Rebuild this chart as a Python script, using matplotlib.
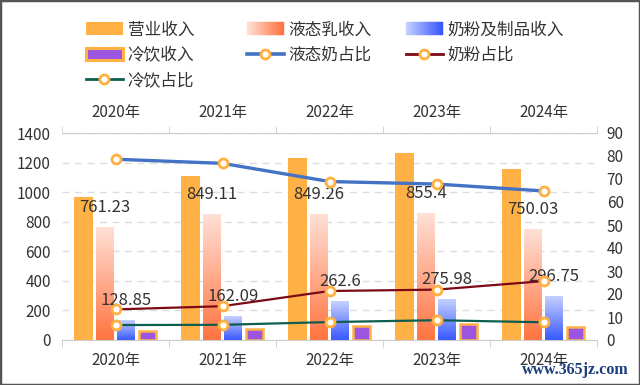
import matplotlib
matplotlib.use("Agg")
import matplotlib.pyplot as plt
import numpy as np
from matplotlib.colors import to_rgb
from matplotlib.legend_handler import HandlerBase
from matplotlib.lines import Line2D
from matplotlib.patches import Patch, Rectangle

plt.rcParams["font.family"] = ["Noto Sans CJK SC", "DejaVu Sans"]

# --- data ---
years = ["2020年", "2021年", "2022年", "2023年", "2024年"]
revenue = [968.9, 1105.9, 1231.7, 1261.8, 1157.8]      # 营业收入
liquid = [761.23, 849.11, 849.26, 855.4, 750.03]       # 液态乳收入
powder = [128.85, 162.09, 262.6, 275.98, 296.75]       # 奶粉及制品收入
cold = [63.0, 73.0, 96.0, 108.0, 89.0]                 # 冷饮收入
liquid_pct = [78.6, 76.8, 68.9, 67.8, 64.8]            # 液态奶占比
powder_pct = [13.3, 14.7, 21.3, 21.9, 25.6]            # 奶粉占比
cold_pct = [6.5, 6.6, 7.8, 8.6, 7.7]                   # 冷饮占比

ORANGE = "#FFB146"
LIQ_TOP, LIQ_BOT = "#FFE0D6", "#FF7440"
BLU_TOP, BLU_BOT = "#C6D1FF", "#3858FF"
PURPLE = "#9B55E0"
MARK_EDGE = "#FFB040"
TXT = "#333333"


def vgrad(ax, x0, w, h, c_top, c_bot):
    # vertical gradient bar drawn as a small image
    t = np.linspace(0, 1, 128)[:, None]
    rgb = (1 - t) * np.array(to_rgb(c_bot)) + t * np.array(to_rgb(c_top))
    ax.imshow(rgb[:, None, :], extent=[x0, x0 + w, 0, h], origin="lower",
              aspect="auto", interpolation="bilinear", zorder=2)


class GradHandler(HandlerBase):
    """Legend key filled with a horizontal gradient."""

    def __init__(self, c_left, c_right, n=24):
        super().__init__()
        self.c0 = np.array(to_rgb(c_left))
        self.c1 = np.array(to_rgb(c_right))
        self.n = n

    def create_artists(self, legend, orig_handle, xdescent, ydescent,
                       width, height, fontsize, trans):
        arts = []
        step = width / self.n
        for k in range(self.n):
            t = k / (self.n - 1)
            c = (1 - t) * self.c0 + t * self.c1
            arts.append(Rectangle((-xdescent + k * step, -ydescent), step * 1.05, height,
                                  facecolor=c, edgecolor=c, lw=0.3, transform=trans))
        return arts


fig = plt.figure(figsize=(6.4, 3.85), dpi=100)
ax = fig.add_axes([62 / 640, 45 / 385, 535 / 640, 207 / 385])
ax2 = ax.twinx()

x = np.arange(len(years))
w = 0.165

ax.bar(x - 0.3, revenue, width=0.185, color=ORANGE, zorder=2)
for i in range(len(x)):
    vgrad(ax, x[i] - 0.1 - w / 2, w, liquid[i], LIQ_TOP, LIQ_BOT)
    vgrad(ax, x[i] + 0.1 - w / 2, w, powder[i], BLU_TOP, BLU_BOT)
ax.bar(x + 0.3, cold, width=w, color=PURPLE, edgecolor=ORANGE, linewidth=1.8, zorder=2)

# value labels above liquid / powder bars
for i in range(len(x)):
    ax.annotate(str(liquid[i]), (x[i] - 0.1, liquid[i]), xytext=(0, 20),
                textcoords="offset pixels", ha="center", va="center",
                fontsize=12, color=TXT, zorder=4)
    ax.annotate(str(powder[i]), (x[i] + 0.1, powder[i]), xytext=(0, 20),
                textcoords="offset pixels", ha="center", va="center",
                fontsize=12, color=TXT, zorder=4)

mk = dict(marker="o", ms=6.5, mfc="white", mec=MARK_EDGE, mew=2)
ax2.plot(x, liquid_pct, color="#4472C4", lw=2.4, **mk)
ax2.plot(x, powder_pct, color="#7B0A16", lw=1.6, **mk)
ax2.plot(x, cold_pct, color="#0E5E4E", lw=1.6, **mk)

# axes styling
ax.set_xlim(-0.5, len(years) - 0.5)
ax.set_ylim(0, 1400)
ax2.set_ylim(0, 90)
ax.set_yticks(np.arange(0, 1401, 200))
ax2.set_yticks(np.arange(0, 91, 10))
ax.set_xticks(x)
ax.set_xticklabels(years)
ax.set_xticks(np.arange(-0.5, len(years), 1), minor=True)
ax.tick_params(axis="x", which="major", length=0, labelsize=11, labelcolor=TXT,
               top=True, labeltop=True, pad=9)
ax.tick_params(axis="x", which="minor", length=5, color="#CCCCCC", top=True)
ax.tick_params(axis="y", length=0, labelsize=11, labelcolor=TXT, pad=8)
ax2.tick_params(axis="y", length=0, labelsize=11, labelcolor=TXT, pad=7)

ax.grid(axis="y", color="#DDDDDD", linestyle=(0, (5, 4)), linewidth=1, zorder=0)
ax.set_axisbelow(True)
for side in ("left", "right"):
    ax.spines[side].set_visible(False)
for side in ("top", "bottom"):
    ax.spines[side].set_color("#CCCCCC")
for s in ax2.spines.values():
    s.set_visible(False)

# legend, one column at a time
h_rev = Patch(facecolor=ORANGE)
h_liq = Patch()
h_pow = Patch()
h_cold = Rectangle((0, 0), 1, 1, facecolor=PURPLE, edgecolor=ORANGE, lw=2.2)
h_lpct = Line2D([], [], color="#4472C4", lw=2.6, **mk)
h_ppct = Line2D([], [], color="#7B0A16", lw=2.0, **mk)
h_cpct = Line2D([], [], color="#0E5E4E", lw=2.0, **mk)

legend_cols = [
    (86 / 640, [h_rev, h_cold, h_cpct], ["营业收入", "冷饮收入", "冷饮占比"]),
    (247 / 640, [h_liq, h_lpct], ["液态乳收入", "液态奶占比"]),
    (406 / 640, [h_pow, h_ppct], ["奶粉及制品收入", "奶粉占比"]),
]
hmap = {h_liq: GradHandler(LIQ_TOP, LIQ_BOT), h_pow: GradHandler(BLU_TOP, BLU_BOT)}
for lx, hs, ls in legend_cols:
    fig.legend(hs, ls, loc="upper left", bbox_to_anchor=(lx, 1 - 21.5 / 385),
               frameon=False, fontsize=12, handlelength=2.2, handleheight=0.78,
               handletextpad=0.3, labelspacing=0.5, borderpad=0, borderaxespad=0,
               handler_map=hmap, labelcolor=TXT)

fig.text(0.983, 1 - 370 / 385, "www.365jz.com", ha="right", va="center",
         fontsize=11.5, family="Liberation Serif", fontweight="bold", color="#1C3D7A")
fig.patches.append(Rectangle((0, 0), 1, 1, transform=fig.transFigure, fill=False,
                             edgecolor="#555555", lw=2.5))

fig.savefig("out.png", dpi=100)
